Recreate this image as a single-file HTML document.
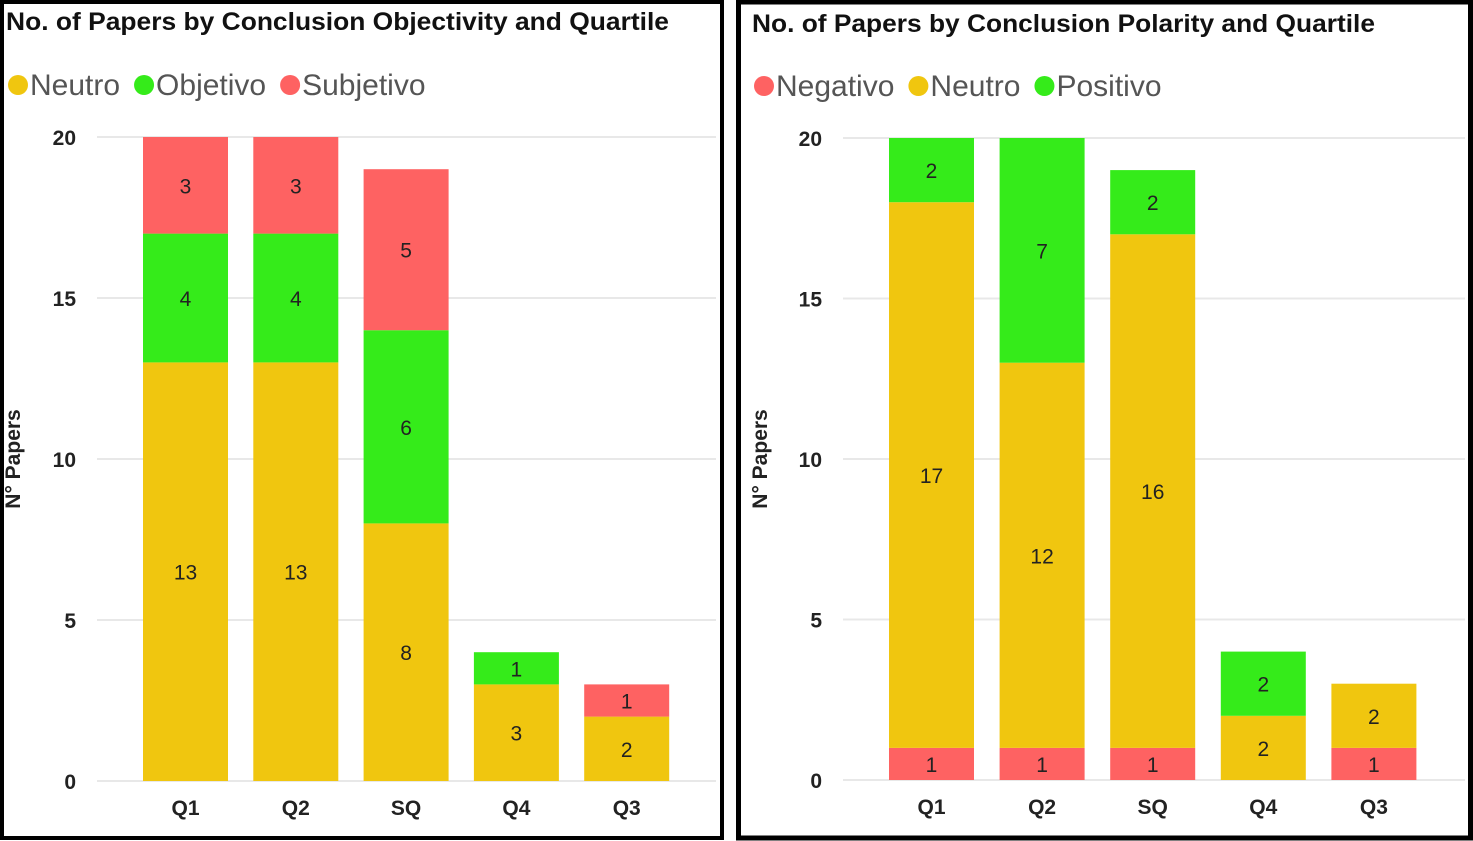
<!DOCTYPE html>
<html><head><meta charset="utf-8"><style>
body{margin:0;width:1473px;height:841px;background:#fff;overflow:hidden}
svg{display:block;font-family:"Liberation Sans",sans-serif}
</style></head><body>
<svg id="s" width="1473" height="841">
<rect x="2" y="2" width="720" height="836" fill="none" stroke="#000" stroke-width="4"/>
<rect x="738.5" y="2" width="732" height="836" fill="none" stroke="#000" stroke-width="5"/>
</svg>
<script>
const categories=["Q1","Q2","SQ","Q4","Q3"];
const objNeutro=[13,13,8,3,2];
const objObjetivo=[4,4,6,1,0];
const objSubjetivo=[3,3,5,0,1];
const polNegativo=[1,1,1,0,1];
const polNeutro=[17,12,16,2,2];
const polPositivo=[2,7,2,2,0];
const yTicks=[0,5,10,15,20];
const NS="http://www.w3.org/2000/svg";
const svg=document.getElementById('s');
function mk(tag,attrs,text){const e=document.createElementNS(NS,tag);for(const k in attrs)e.setAttribute(k,attrs[k]);if(text!==undefined)e.textContent=text;svg.appendChild(e);return e;}
function chart(cfg){
  const y=v=>cfg.y0-(cfg.y0-cfg.y20)*v/20;
  const x=i=>cfg.bx0+i*cfg.step;
  let t=mk('text',{x:cfg.tx,y:cfg.ty,'font-size':25,'font-weight':'bold',fill:'#111',textLength:cfg.tw,lengthAdjust:'spacingAndGlyphs'},cfg.title);
  
  
  let lx=cfg.tx+2;
  cfg.series.forEach(s=>{
    let c=mk('circle',{cx:lx+10,cy:cfg.ly,r:10,fill:s.color});
    
    
    let lt=mk('text',{x:lx+22,y:cfg.ly+10,'font-size':30,fill:'#555'},s.name);
    
    
    lx+=22+lt.getComputedTextLength()+14;
  });
  yTicks.forEach(v=>{
    let g=mk('line',{x1:cfg.gx0,x2:cfg.gx1,y1:y(v),y2:y(v),stroke:'#e8e8e8','stroke-width':2});
    
    
    let l=mk('text',{x:cfg.ylx,y:y(v)+8,'font-size':21,'font-weight':'bold','text-anchor':'end',fill:'#222'},v);
    
    
  });
  let at=mk('text',{x:0,y:0,'font-size':21,'font-weight':'bold',fill:'#222','text-anchor':'middle',transform:`translate(${cfg.atx},${(cfg.y0+cfg.y20)/2}) rotate(-90)`},'N° Papers');
  
  
  categories.forEach((c,i)=>{
    let base=0;
    cfg.series.forEach(s=>{
      const v=s.data[i];if(!v)return;
      let r=mk('rect',{x:x(i),y:y(base+v),width:cfg.bw,height:y(base)-y(base+v),fill:s.color});
      
      
      let d=mk('text',{x:x(i)+cfg.bw/2,y:(y(base)+y(base+v))/2+8,'font-size':21,'text-anchor':'middle',fill:'#222'},v);
      
      
      base+=v;
    });
    let xl=mk('text',{x:x(i)+cfg.bw/2,y:cfg.y0+34,'font-size':21,'font-weight':'bold','text-anchor':'middle',fill:'#222'},c);
    
    
  });
}
chart({title:'No. of Papers by Conclusion Objectivity and Quartile',tx:6,ty:30,tw:663,ly:85,y0:781,y20:137,bx0:143,step:110.3,bw:85,gx0:97,gx1:716,ylx:76,atx:20,
  series:[{name:'Neutro',color:'#f0c60f',data:objNeutro},{name:'Objetivo',color:'#35eb1a',data:objObjetivo},{name:'Subjetivo',color:'#fe6262',data:objSubjetivo}]});
chart({title:'No. of Papers by Conclusion Polarity and Quartile',tx:752,ty:32,tw:623,ly:86,y0:780,y20:138,bx0:889,step:110.6,bw:85,gx0:843,gx1:1465,ylx:822,atx:767,
  series:[{name:'Negativo',color:'#fe6262',data:polNegativo},{name:'Neutro',color:'#f0c60f',data:polNeutro},{name:'Positivo',color:'#35eb1a',data:polPositivo}]});
</script>
</body></html>
